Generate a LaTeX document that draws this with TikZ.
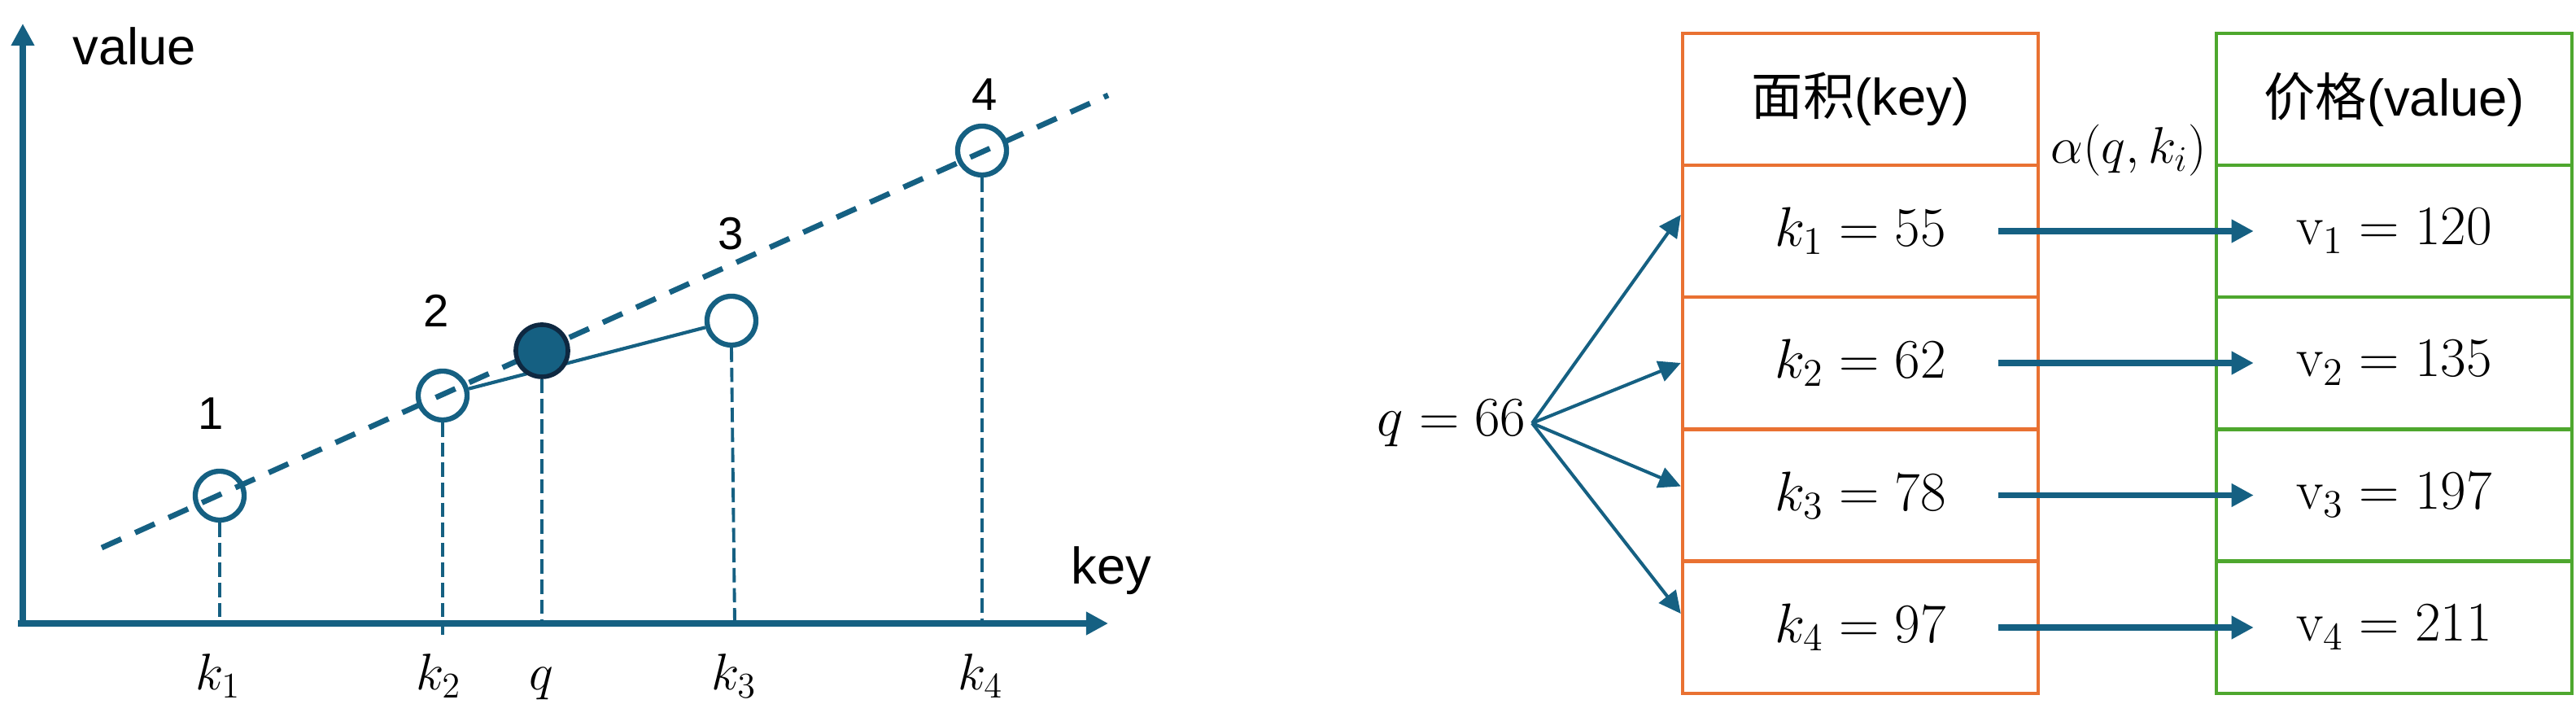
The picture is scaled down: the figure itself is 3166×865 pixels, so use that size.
\RequirePackage{fix-cm}
\documentclass[tikz,border=0pt]{standalone}
\usepackage[no-math]{fontspec}
\setmainfont{Liberation Sans}
\newfontfamily\cjk{Noto Sans CJK SC}
\usetikzlibrary{arrows.meta}
\definecolor{lineblue}{HTML}{156082}
\definecolor{keyorange}{HTML}{E97132}
\definecolor{valgreen}{HTML}{4EA72E}
\definecolor{qdark}{HTML}{0E2841}
\begin{document}
\begin{tikzpicture}[x=0.01cm,y=-0.01cm]
\tikzstyle{axis} = [line width=2pt,color=lineblue,-{Triangle[length=7.7pt,width=7.7pt]}];
\tikzstyle{sample} = [circle,draw=lineblue,line width=1.8pt,minimum size=0.6cm,inner sep=0];
\tikzstyle{query} = [circle,draw=qdark,fill=lineblue,line width=1.6pt,minimum size=0.64cm,inner sep=0];
\tikzstyle{fitline} = [line width=1.9pt,color=lineblue,dash pattern=on 7.5pt off 5.3pt];
\tikzstyle{drop} = [line width=1.1pt,color=lineblue,dash pattern=on 5pt off 2pt];
\tikzstyle{link} = [line width=1.2pt,color=lineblue];
\tikzstyle{num} = [font=\fontsize{16}{18}\selectfont];
\tikzstyle{lab} = [font=\fontsize{18}{20}\selectfont,inner sep=0];
\tikzstyle{keycell} = [draw=keyorange,line width=1.2pt,minimum width=4.37cm,minimum height=1.62cm,inner sep=0,font=\fontsize{19.5}{21}\selectfont];
\tikzstyle{valcell} = [draw=valgreen,line width=1.2pt,minimum width=4.37cm,minimum height=1.62cm,inner sep=0,font=\fontsize{19.5}{21}\selectfont];
\tikzstyle{fanarr} = [line width=1.15pt,color=lineblue,-{Triangle[length=7.7pt,width=7.4pt]}];
\tikzstyle{maparr} = [line width=2pt,color=lineblue,-{Triangle[length=7.7pt,width=7.7pt]}];
\useasboundingbox (0,0) rectangle (3166,865);

% left: interpolation plot
\coordinate (o) at (28,766);
\coordinate (xo) at (22,766);
\coordinate (xend) at (1362,766);
\coordinate (yend) at (28,29);
\coordinate (fitA) at (125,673);
\coordinate (fitB) at (1362,117);
\draw [axis] (xo) -- (xend);
\draw [axis] (o) -- (yend);
\node [lab,anchor=base west] (yl) at (89,80) {value};
\node [lab,anchor=base west] (xl) at (1316,718) {key};

\draw [fitline] (fitA) -- (fitB);
\node [sample] (p1) at (270,609) {};
\node [sample] (p2) at (544,486) {};
\node [sample] (p3) at (899,394) {};
\node [sample] (p4) at (1207,185) {};
\draw [link] (p2) -- (p3);
\node [query] (pq) at (666,431) {};

\node [num] (n1) at (259,508) {1};
\node [num] (n2) at (536,382) {2};
\node [num] (n3) at (898,287) {3};
\node [num] (n4) at (1210,116) {4};

\draw [drop] (p1.south) -- (p1 |- o);
\draw [drop] (p2.south) -- ([yshift=-0.14cm]p2 |- o);
\draw [drop] (pq.south) -- (pq |- o);
\draw [drop] (p3.south) -- ([xshift=0.04cm]p3 |- o);
\draw [drop] (p4.south) -- (p4 |- o);

\node [lab,anchor=base] (lk1) at (268,848) {$k_1$};
\node [lab,anchor=base] (lk2) at (539,848) {$k_2$};
\node [lab,anchor=base] (lq) at (665,848) {$q$};
\node [lab,anchor=base] (lk3) at (902,848) {$k_3$};
\node [lab,anchor=base] (lk4) at (1205,848) {$k_4$};

% right: key/value table
\node [keycell,font=\fontsize{18}{20}\selectfont] (kh) at (2286.5,122) {{\cjk 面积}(key)};
\node [keycell] (k1) at (2286.5,284) {$k_1 = 55$};
\node [keycell] (k2) at (2286.5,446) {$k_2 = 62$};
\node [keycell] (k3) at (2286.5,608.5) {$k_3 = 78$};
\node [keycell] (k4) at (2286.5,771) {$k_4 = 97$};
\node [valcell,font=\fontsize{18}{20}\selectfont] (vh) at (2942.5,122) {{\cjk 价格}(value)};
\node [valcell] (v1) at (2942.5,284) {$\mathrm{v}_1 = 120$};
\node [valcell] (v2) at (2942.5,446) {$\mathrm{v}_2 = 135$};
\node [valcell] (v3) at (2942.5,608.5) {$\mathrm{v}_3 = 197$};
\node [valcell] (v4) at (2942.5,771) {$\mathrm{v}_4 = 211$};
\node [font=\fontsize{18}{20}\selectfont] (att) at (2616,185) {$\alpha(q,k_i)$};
\node [font=\fontsize{19.5}{21}\selectfont,inner sep=2pt] (q66) at (1784,520) {$q = 66$};

\draw [fanarr] (q66.east) -- ([yshift=0.2cm]k1.west);
\draw [fanarr] (q66.east) -- (k2.west);
\draw [fanarr] (q66.east) -- ([yshift=0.11cm]k3.west);
\draw [fanarr] (q66.east) -- ([yshift=0.17cm]k4.west);

\draw [maparr] ([xshift=-0.51cm]k1.east) -- ([xshift=0.48cm]v1.west);
\draw [maparr] ([xshift=-0.51cm]k2.east) -- ([xshift=0.48cm]v2.west);
\draw [maparr] ([xshift=-0.51cm]k3.east) -- ([xshift=0.48cm]v3.west);
\draw [maparr] ([xshift=-0.51cm]k4.east) -- ([xshift=0.48cm]v4.west);
\end{tikzpicture}
\end{document}
